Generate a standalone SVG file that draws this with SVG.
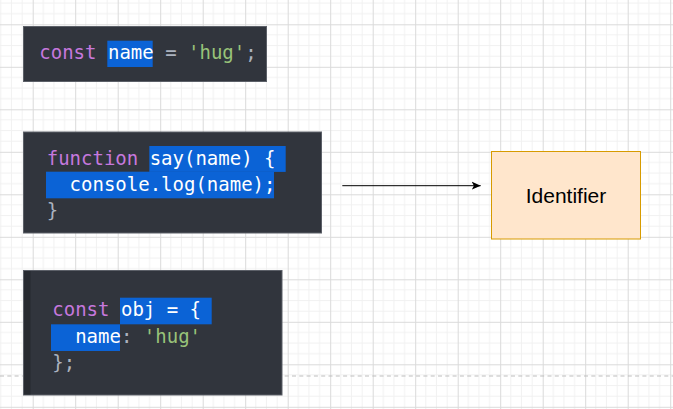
<svg xmlns="http://www.w3.org/2000/svg" width="673" height="409" viewBox="0 0 673 409">
<defs>
<pattern id="grid" patternUnits="userSpaceOnUse" x="32.7" y="24.3" width="42.5" height="42.5">
<path d="M10.625 0V42.5M21.25 0V42.5M31.875 0V42.5M0 10.625H42.5M0 21.25H42.5M0 31.875H42.5" stroke="#f1f1f1" stroke-width="1" fill="none"/>
<path d="M0.5 0V42.5M0 0.5H42.5" stroke="#dadada" stroke-width="1" fill="none"/>
</pattern>
<marker id="arrow" markerWidth="10" markerHeight="10" refX="9" refY="5" orient="auto" markerUnits="userSpaceOnUse">
<path d="M0 1 L9 5 L0 9 L2.2 5 Z" fill="#000"/>
</marker>
<style>
.box{fill:#31353d;stroke:#5c6068;stroke-width:1}
.code{font-family:"DejaVu Sans Mono","Liberation Mono",monospace;font-size:19px;white-space:pre;fill:#abb2bf}
.kw{fill:#c678dd}
.hl{fill:#ffffff}
.str{fill:#98c379}
.sel{fill:#0b63d6}
.lbl{font-family:"Liberation Sans",Arial,sans-serif;font-size:21px;fill:#000}
</style>
</defs>
<rect width="673" height="409" fill="#ffffff"/>
<rect width="673" height="409" fill="url(#grid)"/>
<line x1="0" y1="376" x2="673" y2="376" stroke="#bdbdbd" stroke-width="1" stroke-dasharray="4 3.3"/>

<g id="code1">
<rect class="box" x="23.5" y="26.5" width="243" height="55"/>
<rect class="sel" x="107.3" y="40.7" width="45.4" height="26.3"/>
<text class="code" x="39.3" y="59"><tspan class="kw">const</tspan> <tspan class="hl">name</tspan> = <tspan class="str">'hug'</tspan>;</text>
</g>

<g id="code2">
<rect class="box" x="23.5" y="132" width="298" height="101"/>
<rect class="sel" x="149.3" y="146" width="136.4" height="25.9"/>
<rect class="sel" x="46" y="171.7" width="228" height="26.6"/>
<text class="code" x="46.7" y="164.5"><tspan class="kw">function</tspan> <tspan class="hl">say(name) {</tspan></text>
<text class="code hl" x="46.7" y="191">  console.log(name);</text>
<text class="code" x="46.7" y="217">}</text>
</g>

<g id="code3">
<rect class="box" x="23.5" y="270.5" width="258.5" height="124.5"/>
<rect x="24" y="271" width="6.5" height="123.5" fill="#272a30"/>
<rect class="sel" x="120" y="297.7" width="91.7" height="26.6"/>
<rect class="sel" x="51" y="324.3" width="69" height="26.7"/>
<text class="code" x="52.3" y="316"><tspan class="kw">const</tspan> <tspan class="hl">obj = {</tspan></text>
<text class="code" x="52.3" y="342.6"><tspan class="hl">  name</tspan>: <tspan class="str">'hug'</tspan></text>
<text class="code" x="52.3" y="369.2">};</text>
</g>

<g id="identifier">
<rect x="491.5" y="151.5" width="149" height="87.5" fill="#ffe6cc" stroke="#d79b00" stroke-width="1"/>
<text class="lbl" x="566" y="203" text-anchor="middle">Identifier</text>
</g>

<g id="connectors">
<line x1="342.3" y1="185.7" x2="480.7" y2="185.7" stroke="#000" stroke-width="1" marker-end="url(#arrow)"/>
</g>
</svg>
